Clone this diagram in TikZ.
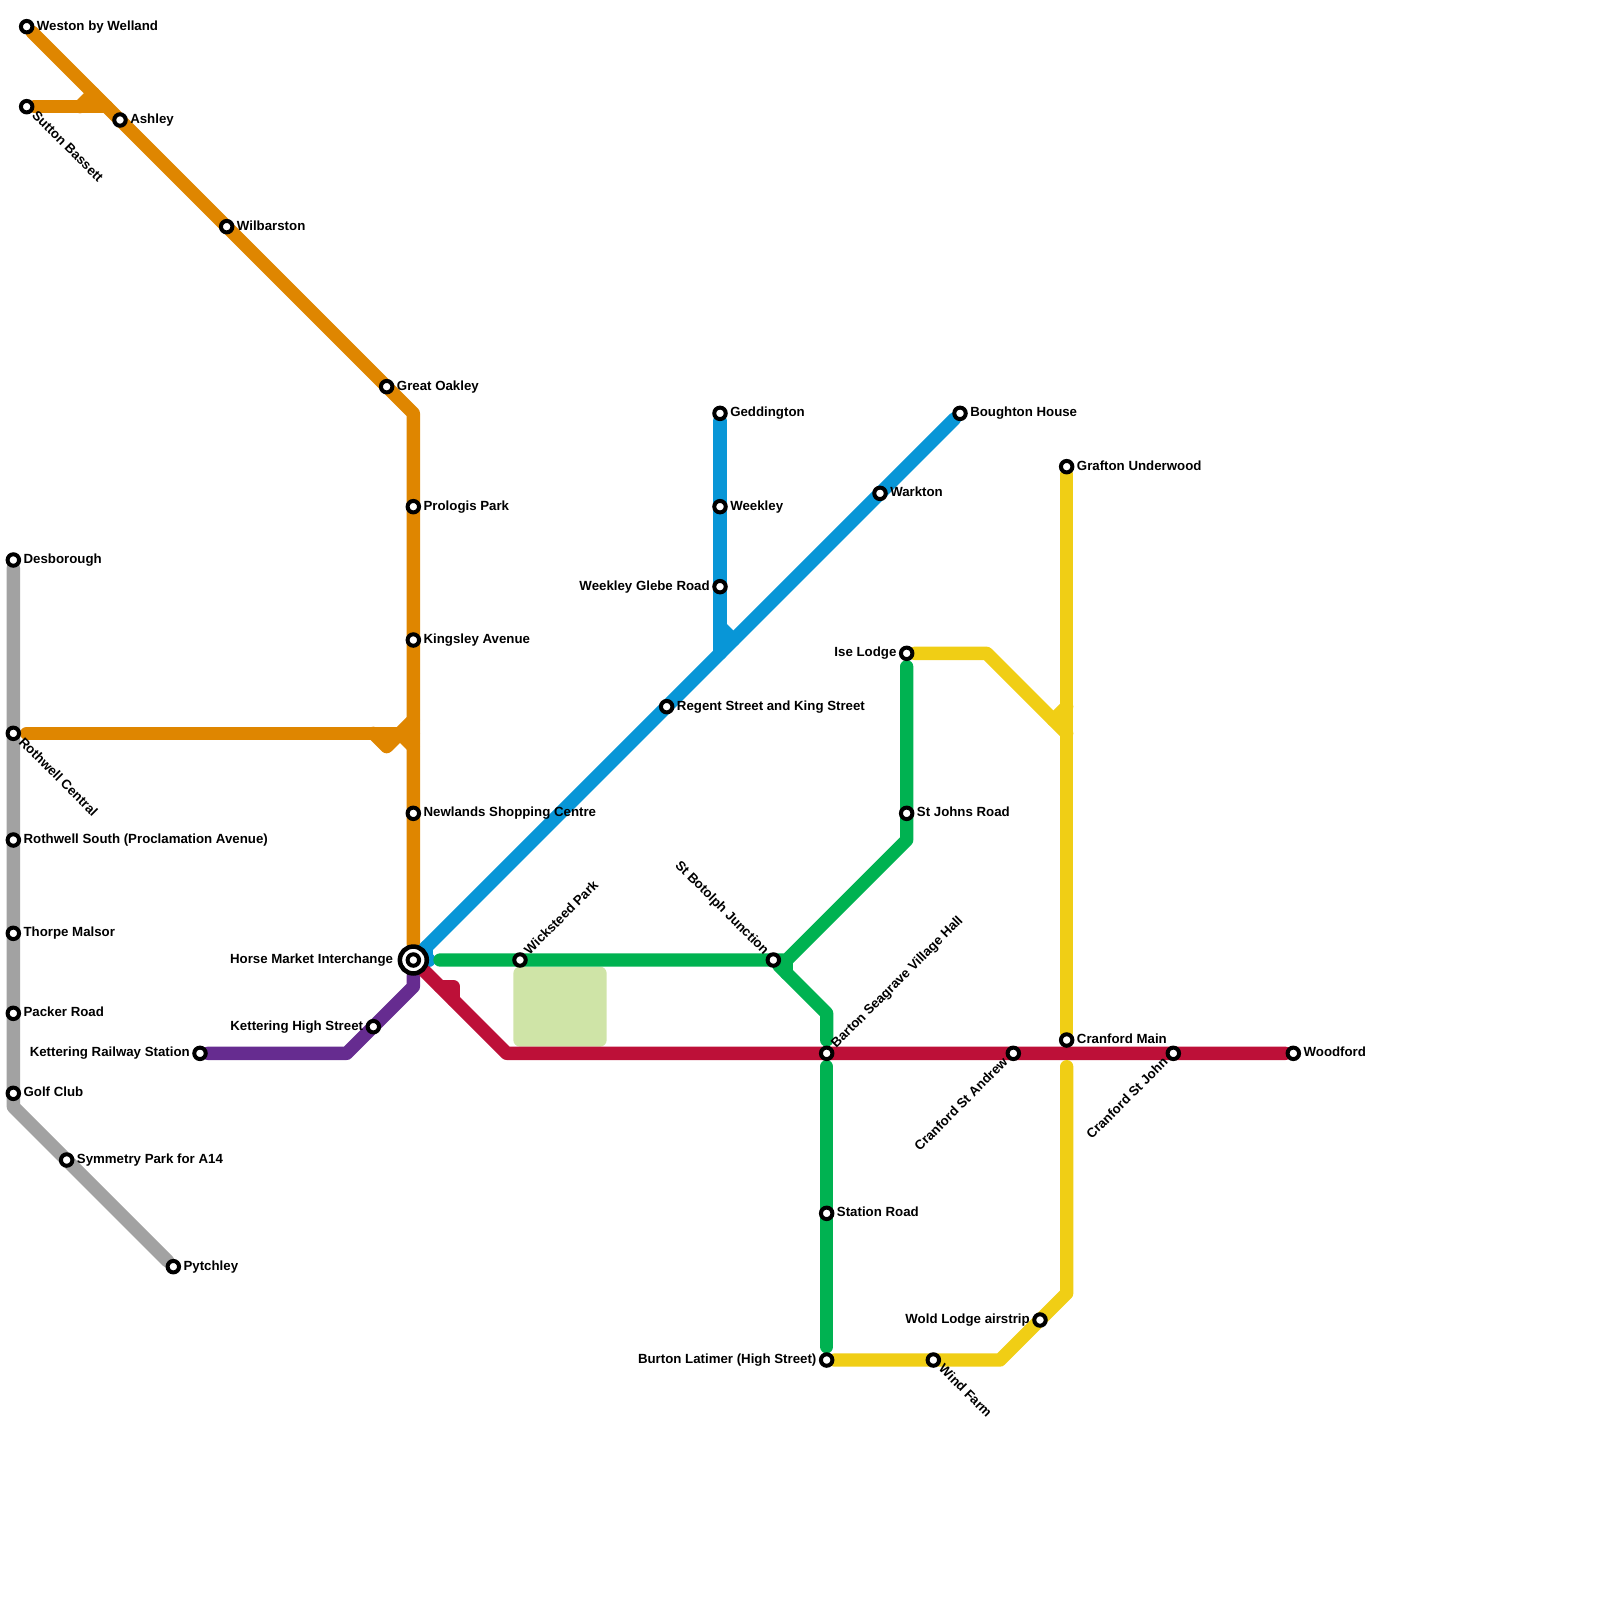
\documentclass[tikz,border=0pt]{standalone}
\usepackage{fontspec}
\setmainfont{Liberation Sans}
\usetikzlibrary{positioning,backgrounds}

\definecolor{lineorange}{HTML}{DF8600}
\definecolor{linegrey}{HTML}{A2A2A2}
\definecolor{linepurple}{HTML}{662C90}
\definecolor{linered}{HTML}{BD1038}
\definecolor{linegreen}{HTML}{00B251}
\definecolor{lineblue}{HTML}{0896D7}
\definecolor{lineyellow}{HTML}{F0CE15}
\definecolor{parkgreen}{HTML}{CFE4A7}

\tikzset{
  station/.style={circle, draw=black, fill=white, line width=3pt, minimum size=8.6pt, inner sep=0pt},
  hubring/.style={circle, draw=black, fill=white, line width=3.4pt, minimum size=20.2pt, inner sep=0pt},
  stlab/.style={font=\fontsize{9.95}{12}\selectfont\bfseries, inner sep=0pt, text height=7.2pt, text depth=2pt},
  metro/.style={line width=10pt, line cap=round, line join=round}
}

\begin{document}
\begin{tikzpicture}[x=10pt, y=-10pt]
\useasboundingbox (0,0) rectangle (120,120);

  % stations with the label on the right
  \foreach \id/\x/\y/\lab in {
    wes/2/2/{Weston by Welland},
    ash/9/9/{Ashley},
    wil/17/17/{Wilbarston},
    gre/29/29/{Great Oakley},
    pro/31/38/{Prologis Park},
    kin/31/48/{Kingsley Avenue},
    new/31/61/{Newlands Shopping Centre},
    des/1/42/{Desborough},
    rso/1/63/{Rothwell South (Proclamation Avenue)},
    tho/1/70/{Thorpe Malsor},
    pac/1/76/{Packer Road},
    gol/1/82/{Golf Club},
    sym/5/87/{Symmetry Park for A14},
    pyt/13/95/{Pytchley},
    ged/54/31/{Geddington},
    wee/54/38/{Weekley},
    bou/72/31/{Boughton House},
    war/66/37/{Warkton},
    reg/50/53/{Regent Street and King Street},
    gra/80/35/{Grafton Underwood},
    stj/68/61/{St Johns Road},
    sta/62/91/{Station Road},
    cma/80/78/{Cranford Main},
    woo/97/79/{Woodford}
  }{
    \node[station] (\id) at (\x,\y) {};
    \node[stlab, right=1.7pt of \id] (\id lab) {\lab};
  }

  % stations with the label on the left
  \foreach \id/\x/\y/\lab in {
    khs/28/77/{Kettering High Street},
    krs/15/79/{Kettering Railway Station},
    wgr/54/44/{Weekley Glebe Road},
    ise/68/49/{Ise Lodge},
    bur/62/102/{Burton Latimer (High Street)},
    wol/78/99/{Wold Lodge airstrip}
  }{
    \node[station] (\id) at (\x,\y) {};
    \node[stlab, left=1.7pt of \id] (\id lab) {\lab};
  }

  % slanted labels
  \foreach \id/\x/\y/\ang/\anc/\lab in {
    sut/2/8/-45/west/{Sutton Bassett},
    rot/1/55/-45/west/{Rothwell Central},
    win/70/102/-45/west/{Wind Farm},
    wic/39/72/45/west/{Wicksteed Park},
    bar/62/79/45/west/{Barton Seagrave Village Hall},
    cra/76/79/225/east/{Cranford St Andrew},
    cjo/88/79/225/east/{Cranford St John},
    bot/58/72/135/east/{St Botolph Junction}
  }{
    \node[station] (\id) at (\x,\y) {};
    \pgfmathsetmacro{\tilt}{ifthenelse(\ang>90, \ang-180, \ang)}
    \node[stlab, rotate=\tilt, anchor=\anc] (\id lab) at ([shift={(\ang:7.5pt)}]\id.center) {\lab};
  }

  \node[hubring] (hub) at (31,72) {};
  \node[station] (hubin) at (hub) {};
  \node[stlab, left=3.2pt of hub] (hublab) {Horse Market Interchange};

  % bends and stubs
  \coordinate (gy1) at (1,83);
  \coordinate (or0) at (2,55);
  \coordinate (or1) at (31,31);
  \coordinate (or2) at (8,8);
  \coordinate (or3) at (6,8);
  \coordinate (or4) at (7,7);
  \coordinate (or5) at (31,55);
  \coordinate (or6) at (28,55);
  \coordinate (or7) at (29,56);
  \coordinate (or8) at (31,54);
  \coordinate (or9) at (30,55);
  \coordinate (or10) at (31,56);
  \coordinate (pu1) at (26,79);
  \coordinate (pu2) at (31,74);
  \coordinate (re1) at (38,79);
  \coordinate (re2) at (33,74);
  \coordinate (re3) at (34,74);
  \coordinate (re4) at (34,75);
  \coordinate (gr1) at (33,72);
  \coordinate (gr2) at (59,72);
  \coordinate (gr3) at (68,63);
  \coordinate (gr4) at (68,50);
  \coordinate (gr5) at (59,73);
  \coordinate (gr6) at (62,76);
  \coordinate (gr7) at (62,78);
  \coordinate (gr8) at (62,80);
  \coordinate (gr9) at (62,101);
  \coordinate (bl1) at (54,49);
  \coordinate (bl2) at (54,47);
  \coordinate (bl3) at (55,48);
  \coordinate (bl4) at (32,71);
  \coordinate (bl5) at (32,72);
  \coordinate (ye1) at (74,49);
  \coordinate (ye2) at (80,55);
  \coordinate (ye3) at (79,54);
  \coordinate (ye4) at (80,53);
  \coordinate (ye5) at (80,80);
  \coordinate (ye6) at (80,97);
  \coordinate (ye7) at (75,102);

  \begin{pgfonlayer}{background}
    \fill[parkgreen, rounded corners=5pt] (38.5,72.5) rectangle (45.5,78.5);

    \draw[metro, linegrey] (des) -- (gy1) -- (pyt);

    \draw[metro, lineorange] (wes) -- (or1) -- (hub);
    \draw[metro, lineorange] (sut) -- (or2);
    \draw[metro, lineorange] (or3) -- (or4);
    \draw[metro, lineorange] (or0) -- (or5);
    \draw[metro, lineorange] (or6) -- (or7) -- (or8);
    \draw[metro, lineorange] (or9) -- (or10);

    \draw[metro, linepurple] (krs) -- (pu1) -- (pu2) -- (hub);

    \draw[metro, lineblue] (bou) -- (hub);
    \draw[metro, lineblue] (ged) -- (bl1);
    \draw[metro, lineblue] (bl2) -- (bl3);
    \draw[metro, lineblue] (bl4) -- (bl5) -- (hub);

    \draw[metro, linered] (hub) -- (re1) -- (woo);
    \draw[metro, linered] (re2) -- (re3) -- (re4);

    \draw[metro, linegreen] (gr1) -- (bot.center) -- (gr2) -- (gr3) -- (gr4);
    \draw[metro, linegreen] (gr2) -- (gr5);
    \draw[metro, linegreen] (bot) -- (gr6) -- (gr7);
    \draw[metro, linegreen] (gr8) -- (gr9);

    \draw[metro, lineyellow] (ise) -- (ye1) -- (ye2);
    \draw[metro, lineyellow] (ye3) -- (ye4);
    \draw[metro, lineyellow] (gra) -- (cma);
    \draw[metro, lineyellow] (ye5) -- (ye6) -- (ye7) -- (bur);
  \end{pgfonlayer}
\end{tikzpicture}
\end{document}
